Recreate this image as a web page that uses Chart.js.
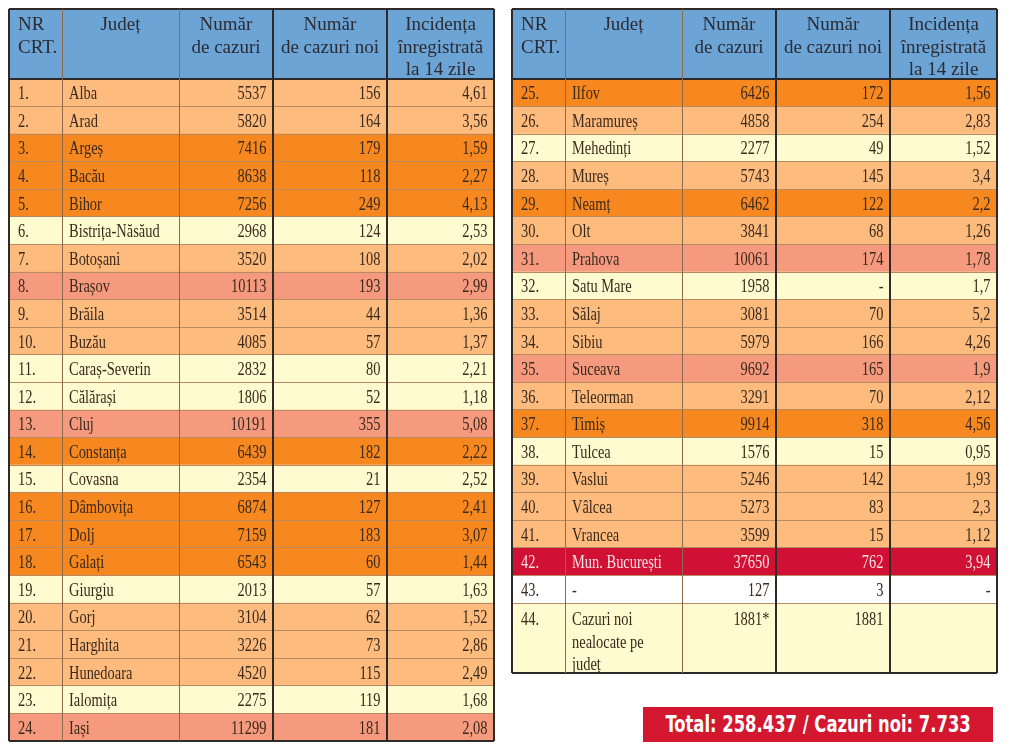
<!DOCTYPE html>
<html lang="ro">
<head>
<meta charset="UTF-8">
<title>Cazuri pe județe</title>
<script src="https://cdn.jsdelivr.net/npm/chart.js"></script>
<style>
  body { margin: 0; background: #fff; }
  .tabel { position: absolute; }
  #total {
    position: absolute; left: 643px; top: 707px; width: 350px; height: 35px;
    background: #d3172f; color: #fff; overflow: hidden;
    font: bold 23px "Liberation Sans Narrow", "DejaVu Sans Condensed", "Roboto", sans-serif;
  }
  #totalText {
    position: absolute; left: 50%; top: 0; line-height: 35px; white-space: nowrap;
    transform-origin: 0 50%;
  }
</style>
</head>
<body>
<div class="tabel" style="left:7px;top:7px;width:489px;height:736px"><canvas id="stanga"></canvas></div>
<div class="tabel" style="left:510px;top:7px;width:489px;height:668px"><canvas id="dreapta"></canvas></div>
<div id="total"><span id="totalText"></span></div>
<script>
// --- date (citite din tabel) ---
const antet = [['NR', 'CRT.'], ['Județ'], ['Număr', 'de cazuri'], ['Număr', 'de cazuri noi'], ['Incidența', 'înregistrată', 'la 14 zile']];

const nrStanga = [1, 2, 3, 4, 5, 6, 7, 8, 9, 10, 11, 12, 13, 14, 15, 16, 17, 18, 19, 20, 21, 22, 23, 24];
const judeteStanga = ['Alba', 'Arad', 'Argeș', 'Bacău', 'Bihor', 'Bistrița-Năsăud', 'Botoșani', 'Brașov', 'Brăila', 'Buzău',
  'Caraș-Severin', 'Călărași', 'Cluj', 'Constanța', 'Covasna', 'Dâmbovița', 'Dolj', 'Galați', 'Giurgiu', 'Gorj',
  'Harghita', 'Hunedoara', 'Ialomița', 'Iași'];
const cazuriStanga = [5537, 5820, 7416, 8638, 7256, 2968, 3520, 10113, 3514, 4085, 2832, 1806, 10191, 6439, 2354, 6874, 7159, 6543, 2013, 3104, 3226, 4520, 2275, 11299];
const noiStanga = [156, 164, 179, 118, 249, 124, 108, 193, 44, 57, 80, 52, 355, 182, 21, 127, 183, 60, 57, 62, 73, 115, 119, 181];
const incidentaStanga = [4.61, 3.56, 1.59, 2.27, 4.13, 2.53, 2.02, 2.99, 1.36, 1.37, 2.21, 1.18, 5.08, 2.22, 2.52, 2.41, 3.07, 1.44, 1.63, 1.52, 2.86, 2.49, 1.68, 2.08];
const nivelStanga = ['lo', 'lo', 'o', 'o', 'o', 'y', 'lo', 's', 'lo', 'lo', 'y', 'y', 's', 'o', 'y', 'o', 'o', 'o', 'y', 'lo', 'lo', 'lo', 'y', 's'];

const nrDreapta = [25, 26, 27, 28, 29, 30, 31, 32, 33, 34, 35, 36, 37, 38, 39, 40, 41, 42, 43];
const judeteDreapta = ['Ilfov', 'Maramureș', 'Mehedinți', 'Mureș', 'Neamț', 'Olt', 'Prahova', 'Satu Mare', 'Sălaj', 'Sibiu',
  'Suceava', 'Teleorman', 'Timiș', 'Tulcea', 'Vaslui', 'Vâlcea', 'Vrancea', 'Mun. București', null];
const cazuriDreapta = [6426, 4858, 2277, 5743, 6462, 3841, 10061, 1958, 3081, 5979, 9692, 3291, 9914, 1576, 5246, 5273, 3599, 37650, 127];
const noiDreapta = [172, 254, 49, 145, 122, 68, 174, null, 70, 166, 165, 70, 318, 15, 142, 83, 15, 762, 3];
const incidentaDreapta = [1.56, 2.83, 1.52, 3.4, 2.2, 1.26, 1.78, 1.7, 5.2, 4.26, 1.9, 2.12, 4.56, 0.95, 1.93, 2.3, 1.12, 3.94, null];
const nivelDreapta = ['o', 'lo', 'y', 'lo', 'o', 'lo', 's', 'y', 'lo', 'lo', 's', 'lo', 'o', 'y', 'lo', 'lo', 'lo', 'r', 'w'];

const nealocateNr = 44;
const nealocateText = ['Cazuri noi', 'nealocate pe', 'județ'];
const nealocateCazuri = 1881;
const nealocateNoi = 1881;

const totalCazuri = '258.437';
const totalNoi = '7.733';

// --- stil ---
const culori = { cap: '#6ca4d6', y: '#fefbd0', lo: '#fdbb7d', o: '#f7871f', s: '#f59a7e', r: '#d01035', w: '#ffffff' };
const colEdges = [0, 53, 170, 264, 378, 485];
const alinieri = ['left', 'left', 'right', 'right', 'right'];
const INALT_ANTET = 70, INALT_RAND = 27.58;
const liniiVerticale = [
  { color: '#2e2a28', width: 2 }, { color: '#8c6a4c', width: 1 }, { color: '#8c6a4c', width: 1 },
  { color: '#2e2a28', width: 2 }, { color: '#2e2a28', width: 2 }, { color: '#2e2a28', width: 2 }
];

const fmt = v => v === null ? '-' : String(v);
const fmtInc = v => v === null ? '-' : String(v).replace('.', ',');

function celuleRand(label, valori, nivel, tip) {
  return valori.map((text, c) => ({
    x: [colEdges[c], colEdges[c + 1]], y: label, lines: [].concat(text), c, nivel, tip
  }));
}

function randuri(nr, judete, cazuri, noi, inc, nivel) {
  return nr.flatMap((n, i) => celuleRand(n + '.', [n + '.', fmt(judete[i]), fmt(cazuri[i]), fmt(noi[i]), fmtInc(inc[i])], nivel[i], 'corp'));
}

function scalaRanduri(labels, greutate, primaGroasa, ultimaGroasa) {
  const groasa = ctx => (ctx.index === 0 && primaGroasa) || (ctx.index === undefined && ultimaGroasa);
  return {
    type: 'category', labels, position: 'left', stack: 'randuri', stackWeight: greutate,
    offset: true, ticks: { display: false }, border: { display: false },
    grid: {
      offset: true, z: 1, drawTicks: false,
      color: ctx => groasa(ctx) ? '#2e2a28' : '#b88a62',
      lineWidth: ctx => groasa(ctx) ? 2 : 1
    }
  };
}

function setDate(id, celule) {
  return {
    yAxisID: id, data: celule, grouped: false,
    backgroundColor: ctx => ctx.raw ? culori[ctx.raw.nivel] : '#fff',
    borderWidth: 0, barPercentage: 1, categoryPercentage: 1
  };
}

function scrie(ctx, text, px, py, align, sx) {
  ctx.save();
  ctx.translate(px, py);
  ctx.scale(sx, 1);
  ctx.textAlign = align;
  ctx.fillText(text, 0, 0);
  ctx.restore();
}

const textCelule = {
  id: 'textCelule',
  afterDraw(chart) {
    const ctx = chart.ctx;
    ctx.textBaseline = 'alphabetic';
    ctx.font = '19px "Liberation Serif", "DejaVu Serif", serif';
    chart.data.datasets.forEach((ds, di) => {
      chart.getDatasetMeta(di).data.forEach((bar, i) => {
        const cell = ds.data[i];
        const { x, y, base, height } = bar.getProps(['x', 'y', 'base', 'height'], true);
        const left = Math.min(x, base), right = Math.max(x, base), top = y - height / 2;
        if (cell.tip === 'cap') {
          ctx.fillStyle = '#2b2b33';
          cell.lines.forEach((t, k) => {
            const py = top + 21 + k * 22.5;
            if (cell.c === 0) scrie(ctx, t, left + 8, py, 'left', 1);
            else scrie(ctx, t, (left + right) / 2, py, 'center', 1);
          });
          return;
        }
        ctx.fillStyle = cell.nivel === 'r' ? '#f8e2e2' : '#3b2a1c';
        cell.lines.forEach((t, k) => {
          const py = cell.tip === 'lung' ? top + 22 + k * 22.5 : y + 6.5;
          const px = alinieri[cell.c] === 'left' ? left + (cell.c === 0 ? 8 : 7) : right - 6.5;
          scrie(ctx, t, px, py, alinieri[cell.c], 0.76);
        });
      });
    });
  }
};

function tabel(canvasId, grupuri) {
  const scales = {};
  // axele stivuite se așază de jos în sus, deci le declarăm în ordine inversă
  grupuri.slice().reverse().forEach(g => {
    scales[g.id] = scalaRanduri(g.labels, g.greutate, g.primaGroasa, g.ultimaGroasa);
  });
  scales.x = {
    type: 'linear', min: colEdges[0], max: colEdges[colEdges.length - 1], stacked: false,
    ticks: { display: false }, border: { display: false },
    afterBuildTicks: ax => { ax.ticks = colEdges.map(value => ({ value })); },
    grid: {
      z: 1, drawTicks: false,
      color: ctx => liniiVerticale[ctx.index] ? liniiVerticale[ctx.index].color : '#2e2a28',
      lineWidth: ctx => liniiVerticale[ctx.index] ? liniiVerticale[ctx.index].width : 2
    }
  };
  return new Chart(document.getElementById(canvasId), {
    type: 'bar',
    data: { datasets: grupuri.map(g => setDate(g.id, g.celule)) },
    options: {
      indexAxis: 'y',
      responsive: true, maintainAspectRatio: false, animation: false,
      layout: { padding: 2 },
      plugins: { legend: { display: false }, tooltip: { enabled: false } },
      scales
    },
    plugins: [textCelule]
  });
}

const celuleAntet = celuleRand('antet', antet, 'cap', 'cap');

tabel('stanga', [
  { id: 'yCap', labels: ['antet'], greutate: INALT_ANTET, primaGroasa: true, ultimaGroasa: true, celule: celuleAntet },
  { id: 'yCorp', labels: nrStanga.map(n => n + '.'), greutate: INALT_RAND * nrStanga.length, primaGroasa: true, ultimaGroasa: true,
    celule: randuri(nrStanga, judeteStanga, cazuriStanga, noiStanga, incidentaStanga, nivelStanga) }
]);

tabel('dreapta', [
  { id: 'yCap', labels: ['antet'], greutate: INALT_ANTET, primaGroasa: true, ultimaGroasa: true, celule: celuleAntet },
  { id: 'yCorp', labels: nrDreapta.map(n => n + '.'), greutate: INALT_RAND * nrDreapta.length, primaGroasa: true, ultimaGroasa: false,
    celule: randuri(nrDreapta, judeteDreapta, cazuriDreapta, noiDreapta, incidentaDreapta, nivelDreapta) },
  { id: 'yLung', labels: [nealocateNr + '.'], greutate: INALT_ANTET, primaGroasa: false, ultimaGroasa: true,
    celule: celuleRand(nealocateNr + '.', [nealocateNr + '.', nealocateText, nealocateCazuri + '*', String(nealocateNoi), ''], 'y', 'lung') }
]);

// bannerul cu totalul: textul comprimat pe lățimea din imagine (~305px), centrat
const span = document.getElementById('totalText');
span.textContent = 'Total: ' + totalCazuri + ' / Cazuri noi: ' + totalNoi;
const sx = 305 / span.offsetWidth;
span.style.transform = 'translateX(' + (-305 / 2) + 'px) scaleX(' + sx + ')';
</script>
</body>
</html>
